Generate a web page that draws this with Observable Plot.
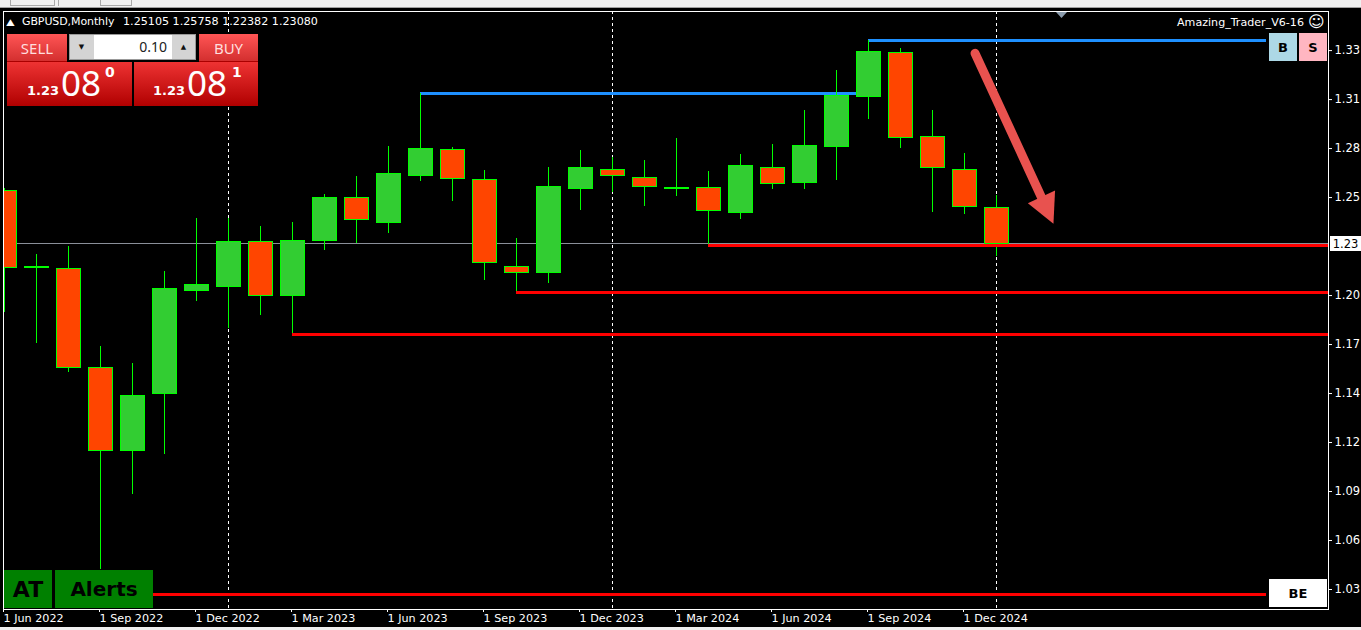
<!DOCTYPE html>
<html>
<head>
<meta charset="utf-8">
<script src="https://cdn.jsdelivr.net/npm/d3@7"></script>
<script src="https://cdn.jsdelivr.net/npm/@observablehq/plot@0.6"></script>
<style>
html,body{margin:0;padding:0;background:#000;overflow:hidden}
#page{position:relative;width:1361px;height:630px;overflow:hidden;background:#000;font-family:"DejaVu Sans",sans-serif}
#chart{position:absolute;left:0;top:0}
#chart svg{display:block}
.o{position:absolute;white-space:nowrap;box-sizing:border-box}
.c{display:flex;align-items:center;justify-content:center}
</style>
</head>
<body>
<div id="page">
  <div id="chart"></div>
  <div class="o" style="left:0;top:0;width:1361px;height:8px;background:#f0f0f0;border-bottom:1px solid #a0a0a0"></div>
  <div class="o" style="left:10px;top:-4px;width:45px;height:10px;border:1px solid #a9a9a9"></div>
  <div class="o" style="left:58px;top:-4px;width:42px;height:10px;border-left:1px solid #a9a9a9"></div>
  <div class="o" style="left:100px;top:-4px;width:32px;height:10px;border:1px solid #a9a9a9"></div>
  <div class="o" style="left:0;top:627px;width:1361px;height:3px;background:#f0f0f0"></div>

  <div class="o" style="left:7px;top:15px;color:#fff;font-size:9px;line-height:14px;transform:scaleX(1.2)">▲</div>
  <div class="o" style="left:22px;top:15px;color:#fff;font-size:11px;line-height:14px;letter-spacing:-.1px">GBPUSD,Monthly</div>
  <div class="o" style="left:123px;top:15px;color:#fff;font-size:11.15px;line-height:14px">1.25105 1.25758 1.22382 1.23080</div>
  <div class="o" style="left:1177px;top:16px;color:#fff;font-size:11.1px;line-height:14px">Amazing_Trader_V6-16</div>
  <div class="o" style="left:1308px;top:12px;color:#fff;font-size:16px;line-height:20px">☺</div>
  <div class="o" style="left:1056px;top:12px;width:11px;height:6px;background:#8a9bac;clip-path:polygon(0 0,100% 0,50% 100%)"></div>

  <div class="o c" style="left:7px;top:34px;width:60px;height:28px;background:linear-gradient(#f55,#d32f2f);color:#ffdede;font-size:15px;font-family:'Noto Sans';border-bottom:1px solid #a00">SELL</div>
  <div class="o" style="left:69px;top:34px;width:127px;height:26px;background:#d4d4d4;border:1px solid #999"></div>
  <div class="o" style="left:94px;top:35px;width:78px;height:24px;background:#fff"></div>
  <div class="o c" style="left:69px;top:34px;width:25px;height:26px;color:#111;font-size:7px">▼</div>
  <div class="o c" style="left:171px;top:34px;width:25px;height:26px;color:#111;font-size:7px">▲</div>
  <div class="o" style="left:94px;top:39px;width:73px;text-align:right;color:#222;font-size:14px;line-height:16px;font-family:'Noto Sans'">0.10</div>
  <div class="o c" style="left:199px;top:34px;width:59px;height:28px;background:linear-gradient(#f55,#d32f2f);color:#ffdede;font-size:15px;font-family:'Noto Sans';border-bottom:1px solid #a00">BUY</div>
  <div class="o" style="left:7px;top:62px;width:125px;height:44px;background:linear-gradient(#e33,#b00000)"></div>
  <div class="o" style="left:134px;top:62px;width:124px;height:44px;background:linear-gradient(#e33,#b00000)"></div>
  <div class="o" style="left:27px;top:82px;color:#fff;font-weight:bold;font-size:13px;line-height:18px">1.23</div>
  <div class="o" style="left:61px;top:61px;color:#fff;font-size:35px;line-height:44px;font-family:'Noto Sans'">08</div>
  <div class="o" style="left:105px;top:64px;color:#fff;font-weight:bold;font-size:14px;line-height:16px">0</div>
  <div class="o" style="left:153px;top:82px;color:#fff;font-weight:bold;font-size:13px;line-height:18px">1.23</div>
  <div class="o" style="left:187px;top:61px;color:#fff;font-size:35px;line-height:44px;font-family:'Noto Sans'">08</div>
  <div class="o" style="left:232px;top:64px;color:#fff;font-weight:bold;font-size:14px;line-height:16px">1</div>

  <div class="o c" style="left:1269px;top:33px;width:28px;height:28px;background:#add8e6;color:#000;font-weight:bold;font-size:13px">B</div>
  <div class="o c" style="left:1299px;top:33px;width:28px;height:28px;background:#ffb6c1;color:#000;font-weight:bold;font-size:13px">S</div>
  <div class="o c" style="left:4px;top:570px;width:48px;height:38px;background:#008000;color:#000;font-weight:bold;font-size:22px">AT</div>
  <div class="o c" style="left:55px;top:570px;width:98px;height:38px;background:#008000;color:#000;font-weight:bold;font-size:20px">Alerts</div>
  <div class="o c" style="left:1269px;top:579px;width:58px;height:28px;background:#fff;color:#000;font-weight:bold;font-size:13px">BE</div>
  <div class="o c" style="left:1330px;top:236px;width:31px;height:15px;background:#fff;color:#000;font-size:11.5px">1.23</div>
</div>
<script>
// Monthly GBPUSD candles, June 2022 to January 2025
const opens  = [1.2606,1.2179,1.2173,1.1624,1.1163,1.1479,1.2051,1.2073,1.2323,1.2023,1.2329,1.2567,1.2429,1.2689,1.2834,1.2667,1.2184,1.2151,1.2617,1.2723,1.2678,1.2617,1.2623,1.2484,1.2734,1.2651,1.2850,1.3128,1.3372,1.2906,1.2723,1.25105];
const highs  = [1.2617,1.2251,1.2295,1.1740,1.1646,1.2157,1.2451,1.2451,1.2406,1.2429,1.2584,1.2684,1.2850,1.3145,1.2845,1.2717,1.2340,1.2734,1.2828,1.2789,1.2773,1.2895,1.2712,1.2806,1.2861,1.3050,1.3272,1.3439,1.3395,1.3050,1.2812,1.25758];
const lows   = [1.1929,1.1757,1.1596,1.0502,1.0918,1.1141,1.1990,1.1840,1.1912,1.1807,1.2273,1.2312,1.2367,1.2656,1.2545,1.2107,1.2034,1.2090,1.2495,1.2595,1.2517,1.2573,1.2295,1.2445,1.2612,1.2612,1.2662,1.3000,1.2839,1.2484,1.2473,1.22382];
const closes = [1.2179,1.2184,1.1624,1.1163,1.1468,1.2062,1.2084,1.2323,1.2023,1.2329,1.2567,1.2445,1.2700,1.2839,1.2673,1.2206,1.2151,1.2628,1.2734,1.2689,1.2628,1.2623,1.2495,1.2745,1.2645,1.2856,1.3134,1.3378,1.2900,1.2734,1.2517,1.2312];

const xTickMonths = [0,3,6,9,12,15,18,21,24,27,30];
const xTickLabels = ["1 Jun 2022","1 Sep 2022","1 Dec 2022","1 Mar 2023","1 Jun 2023","1 Sep 2023","1 Dec 2023","1 Mar 2024","1 Jun 2024","1 Sep 2024","1 Dec 2024"];
const yTickValues = [1.3383,1.3111,1.2839,1.2567,1.2023,1.1751,1.1479,1.1207,1.0935,1.0663,1.0391];
const yTickLabels = ["1.33","1.31","1.28","1.25","1.20","1.17","1.14","1.12","1.09","1.06","1.03"];
const yearBreaks = [7,19,31];

const blueLevels = [{y:1.3145,from:13,to:27},{y:1.3437,from:27,to:39.45}];
const redLevels  = [
  {y:1.2301,from:22,to:41.375},
  {y:1.2040,from:16,to:41.375},
  {y:1.1807,from:9,to:41.375},
  {y:1.0363,from:4.67,to:39.45}
];
const bidPrice = 1.2312;
const arrowShaft = [{m:30.33,p:1.3368},{m:32.41,p:1.2567}];
const arrowHead  = [{m:31.98,p:1.2536},{m:32.83,p:1.2606},{m:32.78,p:1.2421}];

const candles = opens.map((o,i)=>({i,o,h:highs[i],l:lows[i],c:closes[i],up:closes[i]>=o}));
const halfBody = 0.375;
const arrowColor = "#E8524F";
const crisp = {shapeRendering:"crispEdges"};

const chart = Plot.plot({
  width:1361, height:630,
  marginLeft:3, marginRight:33, marginTop:11, marginBottom:21,
  x:{type:"linear",domain:[-1/32,1324/32],range:[3,1328]},
  y:{type:"linear",domain:[1.028,1.36],range:[609,11]},
  style:{background:"#000",color:"#fff",fontFamily:"'DejaVu Sans',sans-serif",fontSize:"11.2px"},
  marks:[
    Plot.ruleX(yearBreaks,{x:d=>d,stroke:"#fff",strokeWidth:1,strokeDasharray:"3,3",...crisp}),
    Plot.ruleY([bidPrice],{y:d=>d,stroke:"#8a8f99",strokeWidth:1,...crisp}),
    Plot.ruleY(blueLevels,{y:"y",x1:"from",x2:"to",stroke:"#1E90FF",strokeWidth:3,...crisp}),
    Plot.ruleX(candles,{x:"i",y1:"l",y2:"h",stroke:"#00FF00",strokeWidth:1,clip:"frame",...crisp}),
    Plot.rect(candles,{x1:d=>d.i-halfBody,x2:d=>d.i+halfBody,y1:"o",y2:"c",fill:d=>d.up?"#32CD32":"#FF4500",stroke:"#00FF00",strokeWidth:1,clip:"frame",dx:0.5,dy:0.5,...crisp}),
    Plot.ruleY(redLevels,{y:"y",x1:"from",x2:"to",stroke:"#FF0000",strokeWidth:3,...crisp}),
    Plot.line(arrowShaft,{x:"m",y:"p",stroke:arrowColor,strokeWidth:9,strokeLinecap:"round"}),
    Plot.line(arrowHead,{x:"m",y:"p",fill:arrowColor,stroke:"none"}),
    Plot.axisX({ticks:xTickMonths,tickFormat:d=>xTickLabels[xTickMonths.indexOf(d)],tickSize:3,tickPadding:2,textAnchor:"start",dx:-1,label:null}),
    Plot.axisY({anchor:"right",ticks:yTickValues,tickFormat:d=>yTickLabels[yTickValues.indexOf(d)],tickSize:3,tickPadding:3,label:null,fontSize:11.5,textStrokeOpacity:0}),
    Plot.frame({stroke:"#fff",strokeWidth:1,...crisp})
  ]
});
document.getElementById("chart").appendChild(chart);
</script>
</body>
</html>
